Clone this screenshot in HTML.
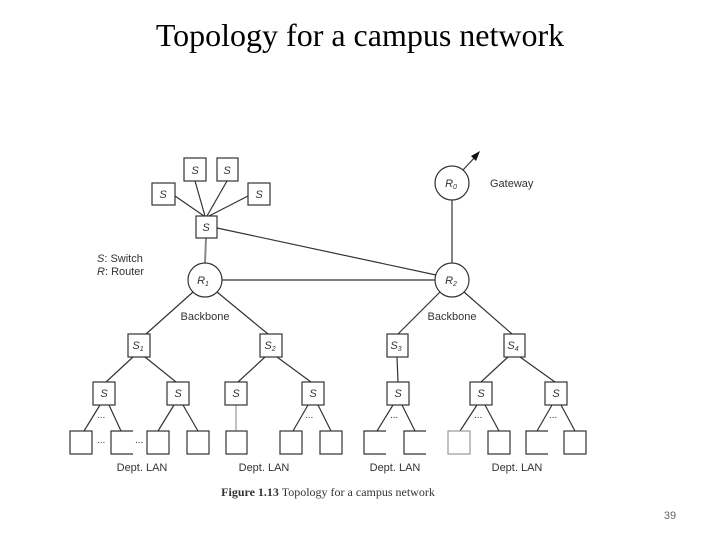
<!DOCTYPE html>
<html><head><meta charset="utf-8"><style>
html,body{margin:0;padding:0;background:#fff;}
svg{display:block}
</style></head><body>
<svg width="720" height="540" viewBox="0 0 720 540" xmlns="http://www.w3.org/2000/svg">
<text x="360" y="46" text-anchor="middle" font-family="Liberation Serif, serif" font-size="32" fill="#000">Topology for a campus network</text>
<g stroke="#333" stroke-width="1.2" fill="none">
<!-- top switches -->
<line x1="195" y1="181" x2="205" y2="216"/>
<line x1="227" y1="181" x2="207" y2="216"/>
<line x1="175" y1="196" x2="204" y2="216"/>
<line x1="248" y1="196" x2="209" y2="216"/>
<line x1="206" y1="238" x2="205" y2="263" stroke="#888" stroke-width="2"/>
<line x1="217" y1="228" x2="436" y2="275"/>
<line x1="222" y1="280" x2="435" y2="280"/>
<line x1="452" y1="200" x2="452" y2="263"/>
<line x1="463" y1="170" x2="476" y2="156"/>
<!-- backbone -->
<line x1="193" y1="292" x2="146" y2="334"/>
<line x1="217" y1="292" x2="268" y2="334"/>
<line x1="440" y1="292" x2="398" y2="334"/>
<line x1="464" y1="292" x2="512" y2="334"/>
<!-- second level -->
<line x1="133" y1="357" x2="106" y2="382"/>
<line x1="145" y1="357" x2="176" y2="382"/>
<line x1="265" y1="357" x2="238" y2="382"/>
<line x1="277" y1="357" x2="311" y2="382"/>
<line x1="397" y1="357" x2="398" y2="382"/>
<line x1="508" y1="357" x2="481" y2="382"/>
<line x1="520" y1="357" x2="555" y2="382"/>
<!-- third level -->
<line x1="100" y1="405" x2="84" y2="431"/>
<line x1="109" y1="405" x2="121" y2="431"/>
<line x1="174" y1="405" x2="158" y2="431"/>
<line x1="183" y1="405" x2="198" y2="431"/>
<line x1="236" y1="405" x2="236" y2="431" stroke="#999"/>
<line x1="308" y1="405" x2="293" y2="431"/>
<line x1="318" y1="405" x2="331" y2="431"/>
<line x1="393" y1="405" x2="377" y2="431"/>
<line x1="402" y1="405" x2="415" y2="431"/>
<line x1="477" y1="405" x2="460" y2="431"/>
<line x1="485" y1="405" x2="499" y2="431"/>
<line x1="552" y1="405" x2="537" y2="431"/>
<line x1="561" y1="405" x2="575" y2="431"/>
<!-- boxes -->
<rect x="184" y="158" width="22" height="23"/>
<rect x="217" y="158" width="21" height="23"/>
<rect x="152" y="183" width="23" height="22"/>
<rect x="248" y="183" width="22" height="22"/>
<rect x="196" y="216" width="21" height="22"/>
<rect x="128" y="334" width="22" height="23"/>
<rect x="260" y="334" width="22" height="23"/>
<rect x="387" y="334" width="21" height="23"/>
<rect x="504" y="334" width="21" height="23"/>
<rect x="93" y="382" width="22" height="23"/>
<rect x="167" y="382" width="22" height="23"/>
<rect x="225" y="382" width="22" height="23"/>
<rect x="302" y="382" width="22" height="23"/>
<rect x="387" y="382" width="22" height="23"/>
<rect x="470" y="382" width="22" height="23"/>
<rect x="545" y="382" width="22" height="23"/>
<rect x="70" y="431" width="22" height="23"/>
<path d="M133 431 H111 V454 H133"/>
<rect x="147" y="431" width="22" height="23"/>
<rect x="187" y="431" width="22" height="23"/>
<rect x="226" y="431" width="21" height="23"/>
<rect x="280" y="431" width="22" height="23"/>
<rect x="320" y="431" width="22" height="23"/>
<path d="M386 431 H364 V454 H386"/>
<path d="M426 431 H404 V454 H426"/>
<rect x="448" y="431" width="22" height="23" stroke="#999"/>
<rect x="488" y="431" width="22" height="23"/>
<path d="M548 431 H526 V454 H548"/>
<rect x="564" y="431" width="22" height="23"/>
<!-- routers -->
<circle cx="205" cy="280" r="17" fill="#fff"/>
<circle cx="452" cy="280" r="17" fill="#fff"/>
<circle cx="452" cy="183" r="17" fill="#fff"/>
</g>
<polygon points="480,151 471,156 476,161" fill="#111"/>
<g font-family="Liberation Sans, sans-serif" font-size="11" fill="#333">
<g font-style="italic" text-anchor="middle">
<text x="195" y="174">S</text><text x="227" y="174">S</text>
<text x="163" y="198">S</text><text x="259" y="198">S</text>
<text x="206" y="231">S</text>
<text x="138" y="349">S<tspan font-size="7" dy="2">1</tspan></text>
<text x="270" y="349">S<tspan font-size="7" dy="2">2</tspan></text>
<text x="396" y="349">S<tspan font-size="7" dy="2">3</tspan></text>
<text x="513" y="349">S<tspan font-size="7" dy="2">4</tspan></text>
<text x="203" y="284">R<tspan font-size="7" dy="2">1</tspan></text>
<text x="451" y="284">R<tspan font-size="7" dy="2">2</tspan></text>
<text x="451" y="187">R<tspan font-size="7" dy="2">0</tspan></text>
<text x="104" y="397">S</text><text x="178" y="397">S</text><text x="236" y="397">S</text>
<text x="313" y="397">S</text><text x="398" y="397">S</text><text x="481" y="397">S</text><text x="556" y="397">S</text>
</g>
<text x="97" y="262"><tspan font-style="italic">S</tspan>: Switch</text>
<text x="97" y="275"><tspan font-style="italic">R</tspan>: Router</text>
<text x="490" y="187">Gateway</text>
<text x="205" y="320" text-anchor="middle">Backbone</text>
<text x="452" y="320" text-anchor="middle">Backbone</text>
<g font-size="10">
<text x="97" y="418">...</text><text x="97" y="443">...</text><text x="135" y="443">...</text>
<text x="305" y="418">...</text><text x="390" y="418">...</text><text x="474" y="418">...</text><text x="549" y="418">...</text>
</g>
<text x="142" y="471" text-anchor="middle">Dept. LAN</text>
<text x="264" y="471" text-anchor="middle">Dept. LAN</text>
<text x="395" y="471" text-anchor="middle">Dept. LAN</text>
<text x="517" y="471" text-anchor="middle">Dept. LAN</text>
</g>
<text x="328" y="496" text-anchor="middle" font-family="Liberation Serif, serif" font-size="12" fill="#333"><tspan font-weight="bold">Figure 1.13</tspan>  Topology for a campus network</text>
<text x="670" y="519" text-anchor="middle" font-family="Liberation Sans, sans-serif" font-size="11" fill="#666">39</text>
</svg>
</body></html>
